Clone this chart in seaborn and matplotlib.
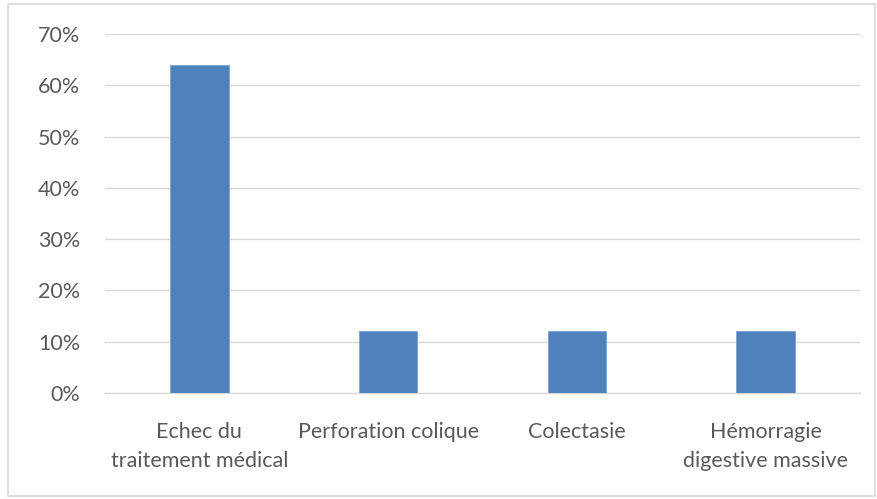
import pandas as pd
import seaborn as sns
import matplotlib.pyplot as plt
from matplotlib.ticker import PercentFormatter
from matplotlib.patches import Rectangle

# Data
categories = ['Echec du\ntraitement médical', 'Perforation colique', 'Colectasie', 'Hémorragie\ndigestive massive']
values = [0.64, 0.12, 0.12, 0.12]
yticks = [0, 0.1, 0.2, 0.3, 0.4, 0.5, 0.6, 0.7]

df = pd.DataFrame({'cause': categories, 'pct': values})

sns.set_style("white")
plt.rcParams['font.family'] = ['Lato', 'DejaVu Sans']

fig = plt.figure(figsize=(8.77, 4.99), dpi=100)
ax = fig.add_axes([0.1197, 0.2124, 0.8609, 0.7195])

sns.barplot(x='cause', y='pct', data=df, color='#4f81bd', saturation=1, width=0.31,
            edgecolor='#7fa3d3', linewidth=0.6, ax=ax, zorder=3)

ax.set_ylim(0, 0.7)
ax.set_xlim(-0.5, 3.5)
ax.set_yticks(yticks)
ax.yaxis.set_major_formatter(PercentFormatter(1.0, decimals=0))
ax.grid(axis='y', color='#d9d9d9', linewidth=1, zorder=0)
ax.set_axisbelow(True)
for s in ['top', 'right', 'left']:
    ax.spines[s].set_visible(False)
ax.spines['bottom'].set_color('#d9d9d9')
ax.spines['bottom'].set_linewidth(1)
ax.tick_params(axis='both', length=0, labelcolor='#595959')
ax.tick_params(axis='y', pad=18, labelsize=15.5)
ax.tick_params(axis='x', pad=21, labelsize=15.5)
for lbl in ax.get_xticklabels():
    lbl.set_linespacing(1.55)
ax.set_xlabel('')
ax.set_ylabel('')

# outer chart border
fig.patches.append(Rectangle((0.009, 0.006), 0.989, 0.985, transform=fig.transFigure,
                             fill=False, edgecolor='#d9d9d9', linewidth=1.2))

plt.savefig('out.png', dpi=100)
